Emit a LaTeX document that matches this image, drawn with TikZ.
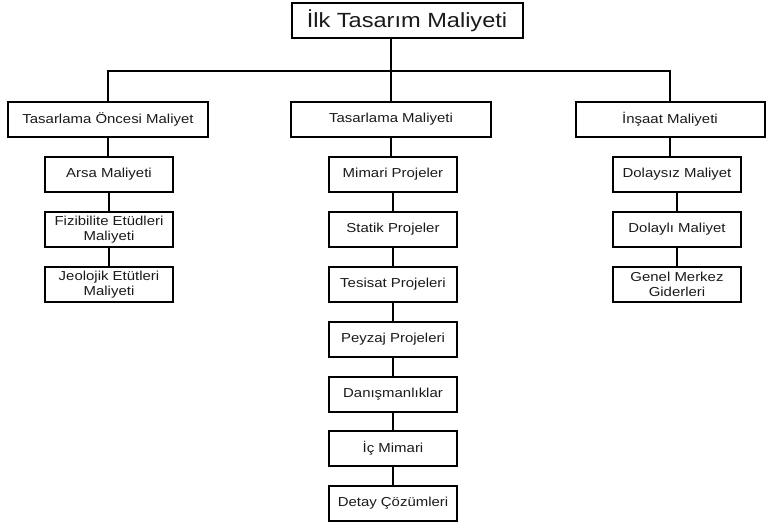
\documentclass[tikz,border=0pt]{standalone}
\usepackage{fontspec}
\setmainfont{Liberation Sans}[FakeStretch=1.15]
\definecolor{inkc}{HTML}{1A1A1A}
\begin{document}
\begin{tikzpicture}[x=1pt,y=-1pt,
  box/.style={draw=black, text=inkc, line width=2pt, inner sep=0pt, align=center, minimum height=35pt, font=\fontsize{13}{14.5}\selectfont},
  lvl1/.style={box, minimum width=200pt},
  lvl2/.style={box, minimum width=128pt},
  link/.style={line width=2pt}]
\useasboundingbox (0,0) rectangle (766,522);
% top
\node[box, minimum width=231pt, font=\fontsize{20.5}{22}\selectfont] (top) at (407,20.5) {İlk Tasarım Maliyeti};
% level 1
\node[lvl1] (L) at (108,119.5) {Tasarlama Öncesi Maliyet};
\node[lvl1] (M) at (391,119.5) {Tasarlama Maliyeti};
\node[lvl1, minimum width=189pt] (R) at (670,119.5) {İnşaat Maliyeti};
% left column
\node[lvl2] (a1) at (109,174.5) {Arsa Maliyeti};
\node[lvl2] (a2) at (109,229.5) {Fizibilite Etüdleri\\Maliyeti};
\node[lvl2] (a3) at (109,284.5) {Jeolojik Etütleri\\Maliyeti};
% middle column
\node[lvl2] (b1) at (393,174.5) {Mimari Projeler};
\node[lvl2] (b2) at (393,229.5) {Statik Projeler};
\node[lvl2] (b3) at (393,284.5) {Tesisat Projeleri};
\node[lvl2] (b4) at (393,339.5) {Peyzaj Projeleri};
\node[lvl2] (b5) at (393,394) {Danışmanlıklar};
\node[lvl2] (b6) at (393,448.5) {İç Mimari};
\node[lvl2] (b7) at (393,503.5) {Detay Çözümleri};
% right column
\node[lvl2] (c1) at (677,174.5) {Dolaysız Maliyet};
\node[lvl2] (c2) at (677,229.5) {Dolaylı Maliyet};
\node[lvl2] (c3) at (677,284.5) {Genel Merkez\\Giderleri};
% connectors
\coordinate (bar) at (0,71);
\draw[link] (top.south -| M.north) -- (M.north);
\draw[link] (L.north) -- (L.north |- bar) -- (R.north |- bar) -- (R.north);
\draw[link] (L.south) -- (L.south |- a1.north);
\draw[link] (a1.south) -- (a2.north);
\draw[link] (a2.south) -- (a3.north);
\draw[link] (M.south) -- (M.south |- b1.north);
\foreach \i/\j in {b1/b2,b2/b3,b3/b4,b4/b5,b5/b6,b6/b7}
  \draw[link] (\i.south) -- (\j.north);
\draw[link] (R.south) -- (R.south |- c1.north);
\draw[link] (c1.south) -- (c2.north);
\draw[link] (c2.south) -- (c3.north);
\end{tikzpicture}
\end{document}
